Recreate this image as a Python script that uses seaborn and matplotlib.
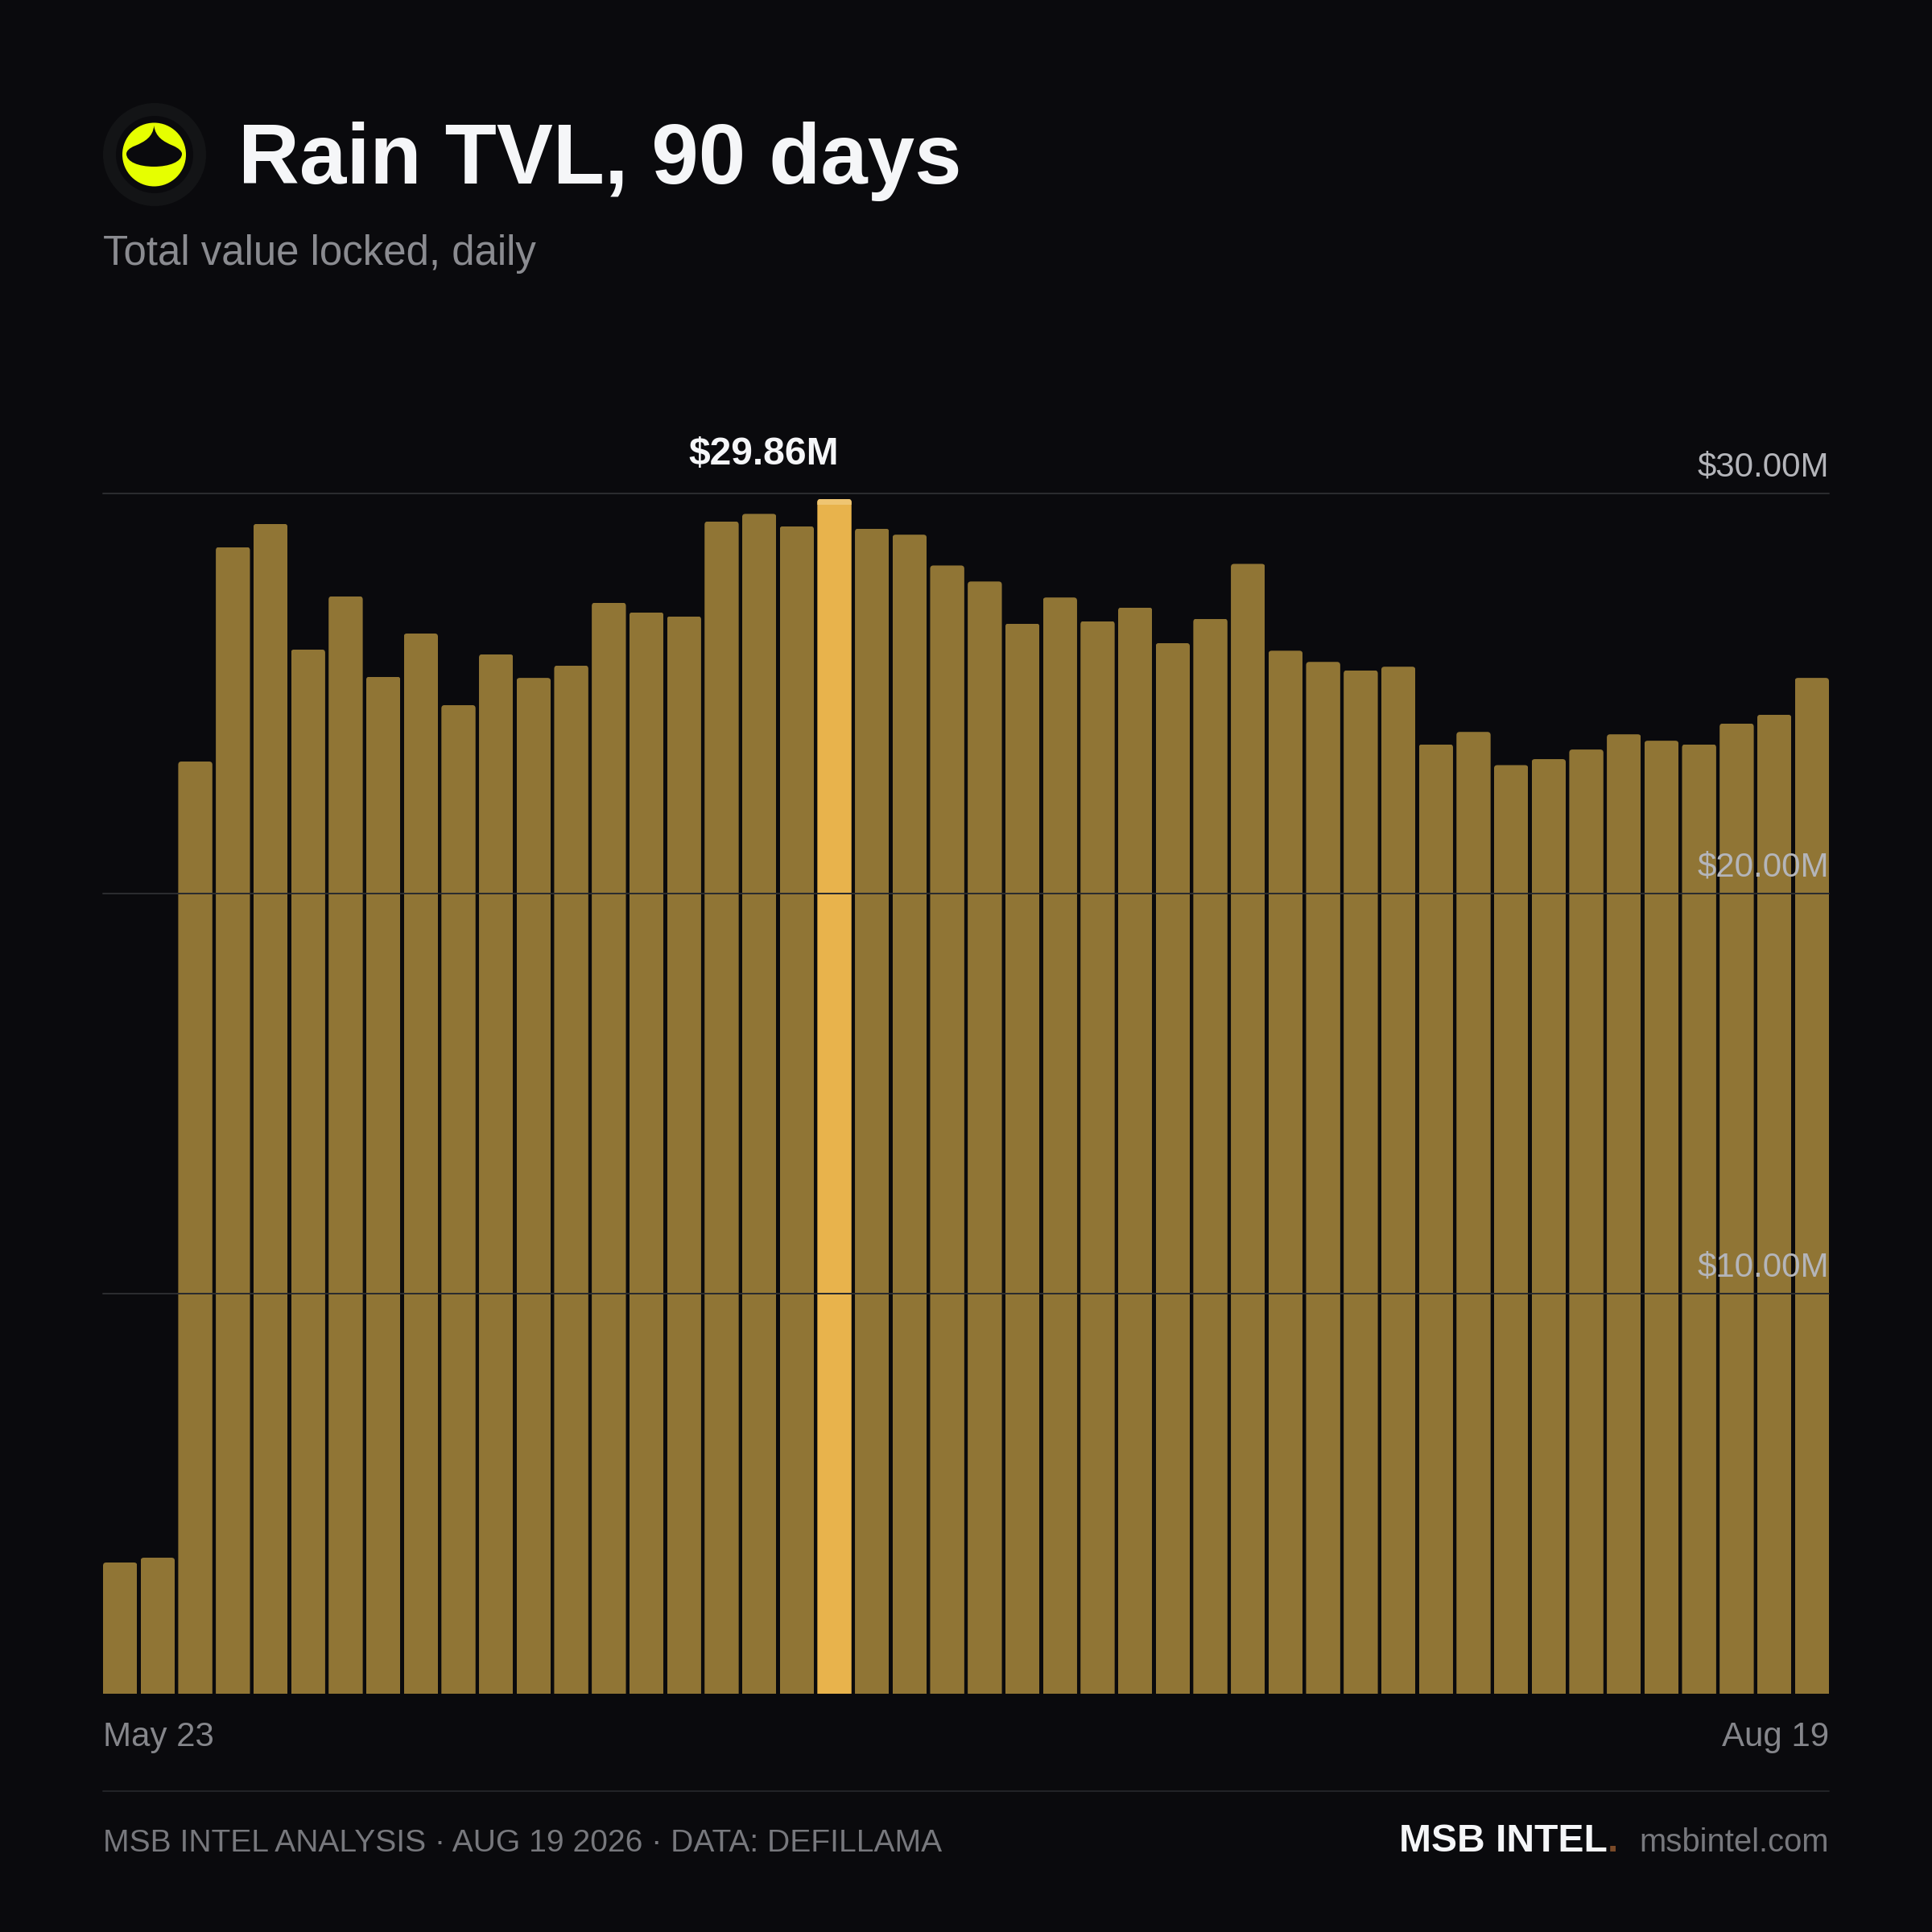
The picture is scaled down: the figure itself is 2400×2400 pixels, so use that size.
#!/bin/python3
import numpy as np
import pandas as pd
import matplotlib.pyplot as plt
import seaborn as sns
from matplotlib.patches import Circle, FancyBboxPatch, PathPatch
from matplotlib.path import Path
from matplotlib.transforms import IdentityTransform

# Daily TVL in $M
tvl = [3.28, 3.40, 23.30, 28.66, 29.24, 26.10, 27.43, 25.42, 26.50, 24.71,
       25.98, 25.39, 25.70, 27.27, 27.03, 26.93, 29.30, 29.49, 29.18, 29.86,
       29.12, 28.97, 28.20, 27.80, 26.75, 27.40, 26.81, 27.15, 26.26, 26.87,
       28.24, 26.07, 25.79, 25.58, 25.67, 23.73, 24.04, 23.21, 23.36, 23.60,
       23.98, 23.82, 23.73, 24.25, 24.47, 25.39]
y_ticks = [10, 20, 30]
y_labels = ["$10.00M", "$20.00M", "$30.00M"]
date_labels = ["May 23", "Aug 19"]

BG = "#0a0a0d"
BAR = "#907535"
PEAK = "#e8b34c"
PEAK_CAP = "#efc572"
GRID = "#2b2c2f"
PX = 0.72  # font size in points for 1 pixel at dpi 100
BAR_WIDTH = 0.908


def main():
    sns.set_theme(style="dark", rc={"axes.facecolor": BG, "figure.facecolor": BG})
    plt.rcParams["font.family"] = ["Liberation Sans", "DejaVu Sans"]

    data = pd.DataFrame({"bar": range(len(tvl)), "tvl": tvl})
    peak_idx = int(data["tvl"].idxmax())
    colors = [PEAK if i == peak_idx else BAR for i in data["bar"]]

    fig = plt.figure(figsize=(24, 24), dpi=100)
    # Plot area spans x 128-2272 and y 613-2104 in pixels
    ax = fig.add_axes([128 / 2400, 1 - 2104 / 2400, 2144 / 2400, 1491 / 2400])

    sns.barplot(data=data, x="bar", y="tvl", hue="bar", palette=colors,
                dodge=False, legend=False, width=BAR_WIDTH, saturation=1,
                native_scale=True, linewidth=0, ax=ax)
    ax.bar(peak_idx, 0.14, bottom=tvl[peak_idx] - 0.14, width=BAR_WIDTH, color=PEAK_CAP, lw=0)

    half = BAR_WIDTH / 2
    ax.set_xlim(-half, len(tvl) - 1 + half)
    ax.set_ylim(0, 30)
    ax.set_xlabel("")
    ax.set_ylabel("")
    sns.despine(ax=ax, left=True, bottom=True, top=True, right=True)

    # Gridlines run over the bars
    ax.set_yticks(y_ticks)
    ax.set_yticklabels([])
    ax.tick_params(axis="y", length=0)
    ax.set_axisbelow(False)
    ax.grid(axis="y", color=GRID, linewidth=2 * PX)
    ax.grid(axis="x", visible=False)
    for gl in ax.get_ygridlines():
        gl.set_clip_on(False)

    for val, lab in zip(y_ticks, y_labels):
        ax.annotate(lab, xy=(1, val), xycoords=ax.get_yaxis_transform(),
                    xytext=(0, 21.5 * PX), textcoords="offset points",
                    ha="right", va="baseline", fontsize=42 * PX, color="#b4b5ba", zorder=6)

    # Date labels sit at the two ends of the axis
    ax.set_xticks(list(ax.get_xlim()), date_labels, fontsize=42 * PX, color="#85868b")
    ax.tick_params(axis="x", length=0, pad=33.5 * PX)
    ax.get_xticklabels()[0].set_ha("left")
    ax.get_xticklabels()[1].set_ha("right")

    # Peak label
    ax.annotate("$29.86M", xy=(peak_idx, tvl[peak_idx]), xytext=(5.5 * PX, 43 * PX),
                textcoords="offset points", ha="right", va="baseline",
                fontsize=48 * PX, fontweight="bold", color="#f5f6f8")

    # Small rounded top corners on every bar
    r = 4
    for bar in ax.patches:
        box = bar.get_window_extent()
        rounded = FancyBboxPatch((box.x0 + r, box.y0 - 10), box.width - 2 * r, box.height + 10 - r,
                                 boxstyle=f"round,pad={r},rounding_size={r}",
                                 transform=IdentityTransform())
        bar.set_clip_path(rounded)

    # Overlay in pixel coordinates for header, footer and logo
    over = fig.add_axes([0, 0, 1, 1], facecolor="none")
    over.set_xlim(0, 2400)
    over.set_ylim(2400, 0)
    over.axis("off")

    over.add_patch(Circle((192, 192), 64, color="#131416", lw=0))
    over.add_patch(Circle((192, 192), 48, color=BG, lw=0))
    over.add_patch(Circle((191.5, 192), 39.5, color="#e6ff00", lw=0))
    drop = Path([(191.3, 156), (190, 170), (180, 176), (168, 181),
                 (160, 184), (157, 188), (157, 191),
                 (157, 201), (172, 207), (191.3, 207),
                 (210, 207), (226, 201), (226, 191),
                 (226, 188), (222, 184), (215, 181),
                 (203, 176), (193, 170), (191.3, 156)],
                [Path.MOVETO] + [Path.CURVE4] * 18)
    over.add_patch(PathPatch(drop, facecolor=BG, lw=0))

    over.text(296, 228, "Rain TVL, 90 days", fontsize=105 * PX, fontweight="bold",
              color="#f5f6f8", va="baseline")
    over.text(128, 328.5, "Total value locked, daily", fontsize=51 * PX, color="#8a8b90", va="baseline")

    over.plot([128, 2272], [2225, 2225], color="#222327", lw=2 * PX)
    over.text(128, 2300, "MSB INTEL ANALYSIS · AUG 19 2026 · DATA: DEFILLAMA",
              fontsize=39 * PX, color="#77787d", va="baseline")
    brand = over.text(1738, 2300, "MSB INTEL", fontsize=48 * PX, fontweight="bold",
                      color="#f5f6f8", va="baseline")
    over.annotate(".", xy=(1, 0), xycoords=brand, va="bottom", xytext=(0, 0),
                  textcoords="offset points", fontsize=48 * PX, fontweight="bold", color="#7a4a28")
    over.text(2272, 2300, "msbintel.com", fontsize=40 * PX, color="#77787d", ha="right", va="baseline")

    fig.savefig("out.png", dpi=100, facecolor=BG)


if __name__ == "__main__":
    main()
